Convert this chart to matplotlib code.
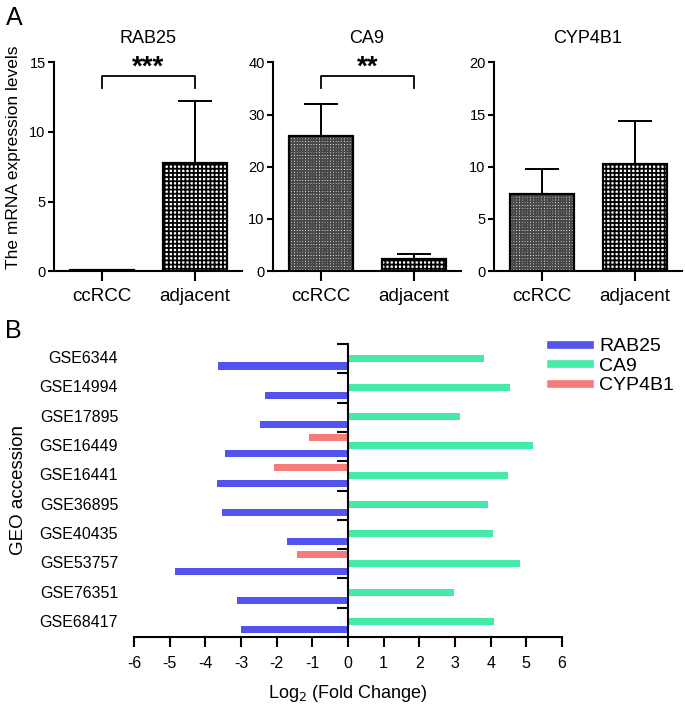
import numpy as np
import matplotlib.pyplot as plt
from matplotlib.lines import Line2D
from matplotlib.transforms import blended_transform_factory

FONT = 'Liberation Sans'

# ---- panel A data (mean, SEM) ----
groups = ['ccRCC', 'adjacent']
genes = ['RAB25', 'CA9', 'CYP4B1']
rab25_mean = [0.05, 7.75]
rab25_err = [0.0, 4.45]
ca9_mean = [25.8, 2.4]
ca9_err = [6.2, 0.8]
cyp4b1_mean = [7.35, 10.25]
cyp4b1_err = [2.45, 4.1]
y_max = [15, 40, 20]
y_step = [5, 10, 5]
stars = ['***', '**', '']

# ---- panel B data (log2 fold change) ----
geo = ['GSE6344', 'GSE14994', 'GSE17895', 'GSE16449', 'GSE16441',
       'GSE36895', 'GSE40435', 'GSE53757', 'GSE76351', 'GSE68417']
rab25_fc = [-3.64, -2.32, -2.47, -3.44, -3.68, -3.52, -1.72, -4.85, -3.12, -3.0]
ca9_fc = [3.8, 4.54, 3.14, 5.18, 4.48, 3.92, 4.06, 4.82, 2.97, 4.09]
cyp4b1_fc = [np.nan, np.nan, np.nan, -1.09, -2.07, np.nan, np.nan, -1.43, np.nan, np.nan]

c_blue = '#5353ee'
c_green = '#45eaa9'
c_red = '#f87b7b'

plt.rcParams['hatch.linewidth'] = 1.3
plt.rcParams['axes.unicode_minus'] = False
plt.rcParams['font.family'] = FONT

fig = plt.figure(figsize=(6.85, 7.08), dpi=100)

means = [rab25_mean, ca9_mean, cyp4b1_mean]
errs = [rab25_err, ca9_err, cyp4b1_err]
lefts = [0.0788, 0.3985, 0.7212]
hatches = ['++++++', '++++']
hatch_cols = ['#484848', 'black']
x = np.arange(len(groups))

for k, gene in enumerate(genes):
    ax = fig.add_axes([lefts[k], 0.617, 0.2745, 0.295])
    # hatched fill, then a plain black outline on top
    fill = ax.bar(x, means[k], width=0.69, color='white', linewidth=0, zorder=2)
    for b, hp, hc in zip(fill, hatches, hatch_cols):
        b.set_hatch(hp)
        b.set_edgecolor(hc)
    ax.bar(x, means[k], width=0.69, fill=False, edgecolor='black',
           linewidth=1.6, zorder=3)
    ax.errorbar(x, means[k], yerr=[np.zeros(2), errs[k]], fmt='none',
                ecolor='black', elinewidth=1.4, capsize=12, capthick=1.4, zorder=1)
    ax.set_xlim(-0.516, 1.505)
    ax.set_ylim(0, y_max[k])
    ax.set_yticks(np.arange(0, y_max[k] + 1, y_step[k]))
    ax.set_xticks(x)
    ax.set_xticklabels(groups, fontsize=13.5)
    for lab in ax.get_yticklabels():
        lab.set_fontsize(10.5)
    ax.spines[['top', 'right']].set_visible(False)
    ax.spines[['left', 'bottom']].set_linewidth(1.5)
    ax.tick_params(axis='y', length=4, width=1.5, pad=2)
    ax.tick_params(axis='x', length=7, width=1.5, pad=5)
    ax.set_title(gene, fontsize=13, pad=14)
    if stars[k]:
        top = y_max[k] * 0.935
        ax.plot([0, 0, 1, 1], [top - y_max[k] * 0.06, top, top, top - y_max[k] * 0.06],
                color='black', lw=1.3, clip_on=False)
        ax.text(0.5, y_max[k] * 0.975, stars[k], ha='center', va='center',
                fontsize=20, fontweight='bold', clip_on=False)

fig.text(0.02, 0.778, 'The mRNA expression levels', rotation=90, ha='center',
         va='center', fontsize=12.5)
fig.text(0.008, 0.975, 'A', fontsize=18, va='center')
fig.text(0.008, 0.533, 'B', fontsize=18, va='center')

# ---- panel B ----
axb = fig.add_axes([0.1956, 0.1003, 0.6248, 0.4138])
pos = np.arange(len(geo))
h = 0.24
axb.barh(pos + 0.2, cyp4b1_fc, height=h, color=c_red, label='CYP4B1')
axb.barh(pos + 0.48, ca9_fc, height=h, color=c_green, label='CA9')
axb.barh(pos + 0.75, rab25_fc, height=h, color=c_blue, label='RAB25')
axb.set_xlim(-6, 6)
axb.set_ylim(len(geo), 0)
axb.set_xticks(np.arange(-6, 7, 1))
for lab in axb.get_xticklabels():
    lab.set_fontsize(11.5)
axb.spines[['top', 'right']].set_visible(False)
axb.spines['left'].set_position(('data', 0))
axb.spines[['left', 'bottom']].set_linewidth(1.5)
axb.set_yticks(np.arange(len(geo) + 1))
axb.set_yticklabels([])
axb.tick_params(axis='y', length=8, width=1.5)
axb.tick_params(axis='x', length=7, width=1.5, pad=7)
tr = blended_transform_factory(axb.transAxes, axb.transData)
for i, name in enumerate(geo):
    axb.text(-0.037, i + 0.5, name, transform=tr, ha='right', va='center',
             fontsize=11.5)
axb.set_xlabel('Log$_2$ (Fold Change)', fontsize=13, labelpad=8)
fig.text(0.027, 0.308, 'GEO accession', rotation=90, ha='center', va='center',
         fontsize=13.5)

handles = [Line2D([], [], color=c, lw=5.5) for c in (c_blue, c_green, c_red)]
leg = axb.legend(handles, ['RAB25', 'CA9', 'CYP4B1'], loc='upper left',
                 bbox_to_anchor=(0.805, 0.523), bbox_transform=fig.transFigure,
                 frameon=False, borderpad=0, borderaxespad=0, handlelength=2.0,
                 handletextpad=0.45, labelspacing=0.1,
                 prop={'size': 14})

fig.savefig('out.png', dpi=100)
